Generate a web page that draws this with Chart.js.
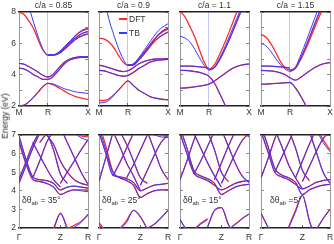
<!DOCTYPE html>
<html>
<head>
<meta charset="utf-8">
<script src="https://cdn.jsdelivr.net/npm/chart.js@4/dist/chart.umd.min.js"></script>
<style>
  body { margin: 0; width: 334px; height: 244px; position: relative; overflow: hidden; background: #fff;
         font-family: "Liberation Sans", Arial, sans-serif; color: #333; }
  canvas { position: absolute; left: 0; top: 0; }
  .txt { position: absolute; font-size: 8.5px; white-space: nowrap; line-height: 1; }
  .ttl { transform: translateX(-50%); }
  .lg { position: absolute; height: 2px; width: 8px; }
  sub { font-size: 6px; vertical-align: -2px; }
</style>
</head>
<body>
<script>
const N = null;

// k-path samples (fraction of panel width) and tick labels
const topX = [0, 0.07, 0.14, 0.21, 0.28, 0.35, 0.42, 0.5, 0.58, 0.66, 0.74, 0.82, 0.91, 1];
const botX = [0, 0.1, 0.2, 0.3, 0.4, 0.5, 0.6, 0.7, 0.8, 0.9, 1];
const topTickPos = [0, 0.42, 1];
const topTickLabels = ['M', 'R', 'X'];
const botTickPos = [0, 0.6, 1];
const botTickLabels = ['Γ', 'Z', 'R'];
const ratios = ['c/a = 0.85', 'c/a = 0.9', 'c/a = 1.1', 'c/a = 1.15'];
const twists = ['35°', '25°', '15°', '5°'];

// top row, TB bands (eV)
const tb085 = [
  [10.6, 9.5, 8.4, 7.35, 6.4, 5.6, 5.25, 5.27, 5.45, 5.8, 6.15, 6.5, 6.78, 6.9],
  [N, N, N, N, N, N, 5.25, 5.26, 5.4, 5.7, 6.05, 6.35, 6.62, 6.75],
  [N, N, N, N, N, N, 5.25, 5.25, 5.35, 5.62, 5.95, 6.25, 6.48, 6.6],
  [4.72, 4.67, 4.52, 4.35, 4.15, 3.95, 3.85, 4.05, 4.45, 4.8, 5.0, 5.1, 5.15, 5.15],
  [4.42, 4.37, 4.22, 4.0, 3.85, 3.7, 3.7, 3.9, 4.3, 4.7, 4.95, 5.05, 5.1, 5.1],
  [2.0, 2.05, 2.25, 2.55, 2.9, 3.25, 3.45, 3.4, 3.25, 3.1, 3.0, 2.9, 2.85, 2.8],
];
const dft085 = [
  [8.0, 7.85, 7.45, 6.95, 6.2, 5.55, 5.25, 5.26, 5.42, 5.75, 6.1, 6.5, 6.82, 6.97],
  tb085[1], tb085[2], tb085[3], tb085[4],
  [2.0, 2.05, 2.25, 2.55, 2.9, 3.25, 3.45, 3.35, 3.15, 2.95, 2.75, 2.6, 2.5, 2.4],
];
const tb09 = [
  [10.5, 9.0, 7.6, 6.6, 5.7, 5.0, 4.6, 4.7, 5.1, 5.6, 6.1, 6.6, 7.0, 7.25],
  [N, N, N, N, N, N, 4.6, 4.65, 5.0, 5.45, 5.9, 6.35, 6.75, 6.97],
  [N, N, N, N, N, N, 4.6, 4.62, 4.95, 5.35, 5.8, 6.2, 6.5, 6.72],
  [4.6, 4.55, 4.45, 4.35, 4.25, 4.2, 4.25, 4.45, 4.7, 4.85, 4.95, 5.0, 5.0, 5.03],
  [4.27, 4.25, 4.15, 4.05, 3.95, 3.9, 3.95, 4.15, 4.4, 4.6, 4.8, 4.9, 4.95, 4.97],
  [2.2, 2.22, 2.35, 2.65, 3.0, 3.35, 3.6, 3.3, 3.0, 2.8, 2.6, 2.5, 2.43, 2.4],
];
const dft09 = [
  [6.33, 6.28, 6.1, 5.75, 5.25, 4.8, 4.6, 4.68, 5.0, 5.45, 5.9, 6.35, 6.7, 6.9],
  tb09[1], tb09[2], tb09[3], tb09[4],
  [2.35, 2.35, 2.45, 2.7, 3.0, 3.35, 3.6, 3.3, 3.0, 2.8, 2.6, 2.5, 2.43, 2.4],
];
const tb11 = [
  [6.45, 6.35, 6.1, 5.65, 5.1, 4.6, 4.3, 4.5, 5.1, 5.85, 6.7, 7.55, 8.5, 9.3],
  [N, N, N, N, N, N, 4.3, 4.45, 5.0, 5.7, 6.5, 7.35, 8.3, 9.1],
  [4.55, 4.55, 4.55, 4.53, 4.5, 4.47, 4.4, N, N, N, N, N, N, N],
  [4.27, 4.27, 4.25, 4.2, 4.15, 4.05, 3.9, 3.45, 2.75, 2.0, 1.2, N, N, N],
  [3.14, 3.15, 3.18, 3.22, 3.27, 3.32, 3.4, 3.6, 3.85, 4.1, 4.35, 4.52, 4.63, 4.68],
];
const dft11 = [
  [8.05, 7.7, 7.1, 6.45, 5.6, 4.8, 4.35, 4.65, 5.35, 6.15, 7.05, 7.95, 8.9, 9.7],
  tb11[1], tb11[2], tb11[3], tb11[4],
];
const tb115 = [
  [6.0, 5.85, 5.5, 5.05, 4.65, 4.35, 4.22, 4.5, 5.3, 6.2, 7.15, 8.1, 9.1, 10],
  [N, N, N, N, N, N, 4.22, 4.4, 5.1, 5.9, 6.8, 7.7, 8.6, 9.5],
  [4.55, 4.55, 4.54, 4.52, 4.5, 4.47, 4.42, N, N, N, N, N, N, N],
  [4.27, 4.26, 4.24, 4.2, 4.12, 4.0, 3.8, 3.65, 3.85, 4.1, 4.35, 4.55, 4.7, 4.77],
  [3.39, 3.4, 3.42, 3.44, 3.46, 3.48, 3.5, 3.15, 2.6, 1.95, 1.3, N, N, N],
];
const dft115 = [
  [6.57, 6.4, 6.0, 5.45, 4.85, 4.45, 4.3, 4.45, 5.0, 5.75, 6.6, 7.45, 8.35, 9.2],
  tb115[1], tb115[2], tb115[3], tb115[4],
];

// bottom row, TB bands (eV)
const tbB35 = [
  [6.95, 5.7, 4.75, 4.6, 4.55, 4.4, 4.05, 4.2, 4.25, 4.2, 4.15],
  [6.7, 5.5, 4.65, 4.5, 4.4, 4.2, 3.8, 3.95, 4.05, 4.0, 3.95],
  [4.4, 5.35, 6.3, 7.1, N, N, N, N, N, N, N],
  [4.6, 5.55, 6.5, 7.2, N, N, N, N, N, N, N],
  [N, N, 6.6, 5.9, 5.2, 4.6, 4.2, N, N, N, N],
  [N, N, 4.7, 5.6, 6.6, 7.2, N, N, N, N, N],
  [N, N, N, 6.6, 7.0, 6.2, 4.9, 4.4, N, N, N],
  [N, N, N, N, 7.0, 6.5, 5.6, 5.0, 4.6, 4.4, 4.3],
  [N, N, N, N, N, N, 4.4, 5.0, 5.6, 6.2, 6.75],
  [N, N, N, N, N, N, 7.4, 6.6, 5.8, 5.0, 4.35],
  [N, N, N, N, N, N, N, N, 7.1, 6.85, 6.7],
  [N, N, N, N, N, 1.9, 2.75, 1.95, N, N, N],
  [N, N, N, N, N, N, N, 1.95, 2.05, 2.3, 2.75],
];
const dftB35 = [
  tbB35[0],
  [6.6, 5.45, 4.6, 4.5, 4.4, 4.2, 3.8, 3.95, 4.05, 4.05, 4.05],
  tbB35[2], tbB35[3], tbB35[4], tbB35[5], tbB35[6], tbB35[7], tbB35[8], tbB35[9],
  [N, N, N, N, N, N, N, N, 7.2, 6.95, 6.9],
  [N, N, N, N, N, 1.95, 2.8, 2.0, N, N, N],
  [N, N, N, N, N, N, N, 1.95, 2.15, 2.35, 2.7],
];
const tbB25 = [
  [7.4, 6.2, 5.0, 4.7, 4.55, 4.3, 3.65, 3.85, 4.0, 4.05, 4.05],
  [7.15, 6.0, 4.85, 4.75, 4.65, 4.45, 4.0, 4.15, 4.3, 4.35, 4.4],
  [4.5, 5.8, 7.1, N, N, N, N, N, N, N, N],
  [2.2, 1.7, N, N, N, N, N, N, N, N, N],
  [N, N, 7.2, 6.4, 5.5, 4.8, 4.0, N, N, N, N],
  [N, N, 4.8, 5.5, 6.3, 7.1, N, N, N, N, N],
  [N, N, N, 7.2, 6.5, 5.6, 4.7, 4.4, N, N, N],
  [N, N, N, N, 4.7, 5.4, 6.2, 7.0, N, N, N],
  [N, N, N, N, N, N, 4.3, 5.1, 5.9, 6.6, 7.0],
  [N, N, N, N, N, N, N, 7.2, 6.2, 5.2, 4.6],
  [N, N, N, N, N, N, N, N, 7.0, 6.9, 6.85],
  [N, N, N, 1.9, 2.3, 2.95, 2.6, 1.95, N, N, N],
  [N, N, N, N, N, N, 1.9, 2.0, 2.2, 2.55, 2.95],
];
const dftB25 = [
  [7.6, 6.4, 5.05, 4.7, 4.55, 4.3, 3.65, 3.85, 4.0, 4.05, 4.05],
  tbB25[1], tbB25[2],
  [2.3, 1.8, N, N, N, N, N, N, N, N, N],
  tbB25[4], tbB25[5], tbB25[6], tbB25[7], tbB25[8], tbB25[9],
  [N, N, N, N, N, N, N, N, 7.2, 7.0, 6.9],
  [N, N, N, 1.95, 2.4, 2.95, 2.6, 1.95, N, N, N],
  tbB25[12],
];
const tbB15 = [
  [7.4, 6.3, 5.1, 4.8, 4.65, 4.4, 3.8, 4.0, 4.2, 4.3, 4.35],
  [7.1, 6.0, 4.95, 4.7, 4.55, 4.3, 4.05, 4.2, 4.4, 4.5, 4.55],
  [4.6, 5.6, 6.7, 7.6, N, N, N, N, N, N, N],
  [2.45, 1.85, N, N, N, N, N, N, N, N, N],
  [N, N, 7.1, 6.3, 5.5, 4.8, 4.2, N, N, N, N],
  [N, N, 4.9, 5.6, 6.4, 7.2, N, N, N, N, N],
  [N, N, N, N, 7.2, 6.2, 5.0, 4.5, N, N, N],
  [N, N, N, N, N, 4.6, 5.5, 6.4, 7.2, N, N],
  [N, N, N, N, N, N, 4.4, 5.2, 6.0, 6.7, 7.1],
  [N, N, N, N, N, N, 7.3, 6.4, 5.5, 4.8, 4.45],
  [N, N, N, N, N, N, N, N, N, 7.1, 6.9],
  [N, N, N, N, 2.05, 2.95, 3.1, 2.2, 1.5, N, N],
  [N, N, N, N, N, N, N, 1.9, 2.2, 2.5, 2.75],
  [N, N, 1.95, 2.2, 2.45, N, N, N, N, N, N],
];
const dftB15 = [
  tbB15[0], tbB15[1], tbB15[2], tbB15[3], tbB15[4], tbB15[5], tbB15[6], tbB15[7], tbB15[8], tbB15[9],
  [N, N, N, N, N, N, N, N, N, 7.2, 7.0],
  tbB15[11], tbB15[12],
  [N, N, 1.9, 2.25, 2.5, N, N, N, N, N, N],
];
const tbB5 = [
  [7.5, 6.4, 5.2, 4.85, 4.7, 4.45, 3.8, 4.05, 4.2, 4.3, 4.35],
  [7.2, 6.1, 5.0, 4.75, 4.6, 4.35, 4.1, 4.25, 4.45, 4.55, 4.6],
  [4.7, 5.7, 6.8, 7.7, N, N, N, N, N, N, N],
  [2.8, 2.05, 1.4, N, N, N, N, N, N, N, N],
  [N, N, 7.3, 6.4, 5.4, 4.7, 4.1, N, N, N, N],
  [N, N, 5.0, 5.8, 6.6, 7.4, N, N, N, N, N],
  [N, N, N, N, 7.3, 6.3, 5.1, 4.55, N, N, N],
  [N, N, N, N, N, 4.7, 5.6, 6.5, 7.3, N, N],
  [N, N, N, N, N, N, 4.5, 5.3, 6.1, 6.8, 7.2],
  [N, N, N, N, N, N, N, 7.2, 6.1, 5.0, 4.4],
  [N, N, N, N, N, N, N, N, 7.3, 6.6, 6.1],
  [N, N, N, N, 2.0, 2.85, 3.75, 2.4, 1.3, N, N],
  [N, N, N, N, N, N, N, N, 1.9, 2.5, 3.0],
];
const dftB5 = [
  tbB5[0], tbB5[1], tbB5[2], tbB5[3], tbB5[4], tbB5[5], tbB5[6], tbB5[7], tbB5[8], tbB5[9],
  [N, N, N, N, N, N, N, N, 7.4, 6.75, 6.2],
  [N, N, N, N, 2.05, 2.95, 3.75, 2.4, 1.3, N, N],
  tbB5[12],
];

const topBands = [[tb085, dft085], [tb09, dft09], [tb11, dft11], [tb115, dft115]];
const botBands = [[tbB35, dftB35], [tbB25, dftB25], [tbB15, dftB15], [tbB5, dftB5]];

const W = 334, H = 244;
const panelLeft = [19, 99, 180, 261];
const panelWidth = 69;
const rows = [{ top: 12, bottom: 106, labelPad: 5 }, { top: 135, bottom: 228, labelPad: 8 }];
const TB_COLOR = '#3838ff';
const DFT_COLOR = '#ff2a2a';

Chart.defaults.font.family = '"Liberation Sans", Arial, sans-serif';
Chart.defaults.font.size = 8.5;
Chart.defaults.color = '#333';

function bandSets(xs, bands, color, width) {
  return bands.map((b) => ({
    data: b.map((y, i) => ({ x: xs[i], y })),
    borderColor: color,
    borderWidth: width,
    pointRadius: 0,
    cubicInterpolationMode: 'monotone',
    spanGaps: false,
    clip: 0,
  }));
}

function panel(col, row, xs, bands, yMin, yMax, tickPos, tickLabels) {
  const canvas = document.createElement('canvas');
  canvas.width = W;
  canvas.height = H;
  document.body.appendChild(canvas);
  const r = rows[row];
  const left = panelLeft[col];
  const showY = col === 0;
  const isTop = row === 0;

  new Chart(canvas, {
    type: 'line',
    data: {
      // first dataset is drawn on top, so TB comes first
      datasets: [
        ...bandSets(xs, bands[0], TB_COLOR, 1),
        ...bandSets(xs, bands[1], DFT_COLOR, 1.3),
      ],
    },
    options: {
      responsive: false,
      animation: false,
      devicePixelRatio: 1,
      // the axes take the space round the box so their labels are not clipped
      layout: { padding: { left: 0, top: r.top, right: W - left - panelWidth, bottom: 0 } },
      plugins: { legend: { display: false }, tooltip: { enabled: false } },
      scales: {
        x: {
          type: 'linear',
          min: 0,
          max: 1,
          position: 'bottom',
          afterFit: (s) => { s.height = H - r.bottom; s.paddingLeft = 0; s.paddingRight = 0; },
          afterBuildTicks: (s) => { s.ticks = tickPos.map((v) => ({ value: v })); },
          ticks: {
            autoSkip: false,
            maxRotation: 0,
            padding: r.labelPad,
            callback: (v, i) => tickLabels[i],
          },
          grid: {
            // thin vertical marker at R in the upper panels
            color: (ctx) => (isTop && ctx.tick && ctx.tick.value === tickPos[1]) ? '#c3c6ff' : 'rgba(0,0,0,0)',
            tickColor: '#666',
            tickLength: -3,
          },
          border: { color: '#222', width: 1.5 },
        },
        x2: {
          type: 'linear',
          min: 0,
          max: 1,
          position: 'top',
          afterFit: (s) => { s.height = 0; },
          ticks: { display: false },
          grid: { display: false },
          border: { color: '#222', width: 1.5 },
        },
        y: {
          min: yMin,
          max: yMax,
          afterFit: (s) => { s.width = left; s.paddingTop = 0; s.paddingBottom = 0; },
          ticks: {
            stepSize: 1,
            display: showY,
            padding: 6,
            callback: (v) => (isTop && v % 2 !== 0) ? '' : v,
          },
          grid: { drawOnChartArea: false, tickLength: -3, tickColor: '#888' },
          border: { color: '#999', width: 1 },
        },
        y2: {
          min: yMin,
          max: yMax,
          position: 'right',
          afterFit: (s) => { s.width = 0; },
          ticks: { stepSize: 1, display: false },
          grid: { drawOnChartArea: false, tickLength: -3, tickColor: '#888' },
          border: { color: '#999', width: 1 },
        },
      },
    },
  });
}

function addText(html, x, y, cls) {
  const d = document.createElement('div');
  d.className = 'txt' + (cls ? ' ' + cls : '');
  d.style.left = x + 'px';
  d.style.top = y + 'px';
  d.innerHTML = html;
  document.body.appendChild(d);
  return d;
}

for (let c = 0; c < 4; c++) {
  panel(c, 0, topX, topBands[c], 2, 8, topTickPos, topTickLabels);
  panel(c, 1, botX, botBands[c], 2, 7, botTickPos, botTickLabels);
  addText(ratios[c], panelLeft[c] + panelWidth / 2, 1, 'ttl');
  const gap = c === 3 ? '' : ' ';
  addText('δθ<sub>ab</sub> ' + gap + '=' + gap + twists[c], panelLeft[c] + (c === 3 ? 9 : 3), 196);
}

// legend inside the c/a = 0.9 panel
const lgRed = document.createElement('div');
lgRed.className = 'lg';
lgRed.style.cssText = 'left:119px;top:18px;background:' + DFT_COLOR;
document.body.appendChild(lgRed);
const lgBlue = document.createElement('div');
lgBlue.className = 'lg';
lgBlue.style.cssText = 'left:119px;top:32px;background:' + TB_COLOR;
document.body.appendChild(lgBlue);
addText('DFT', 129, 15);
addText('TB', 129, 29);

// shared y-axis title
const yt = addText('Energy (eV)', 5, 116);
yt.style.transform = 'translate(-50%, -50%) rotate(-90deg)';
yt.style.color = '#222';
</script>
</body>
</html>
